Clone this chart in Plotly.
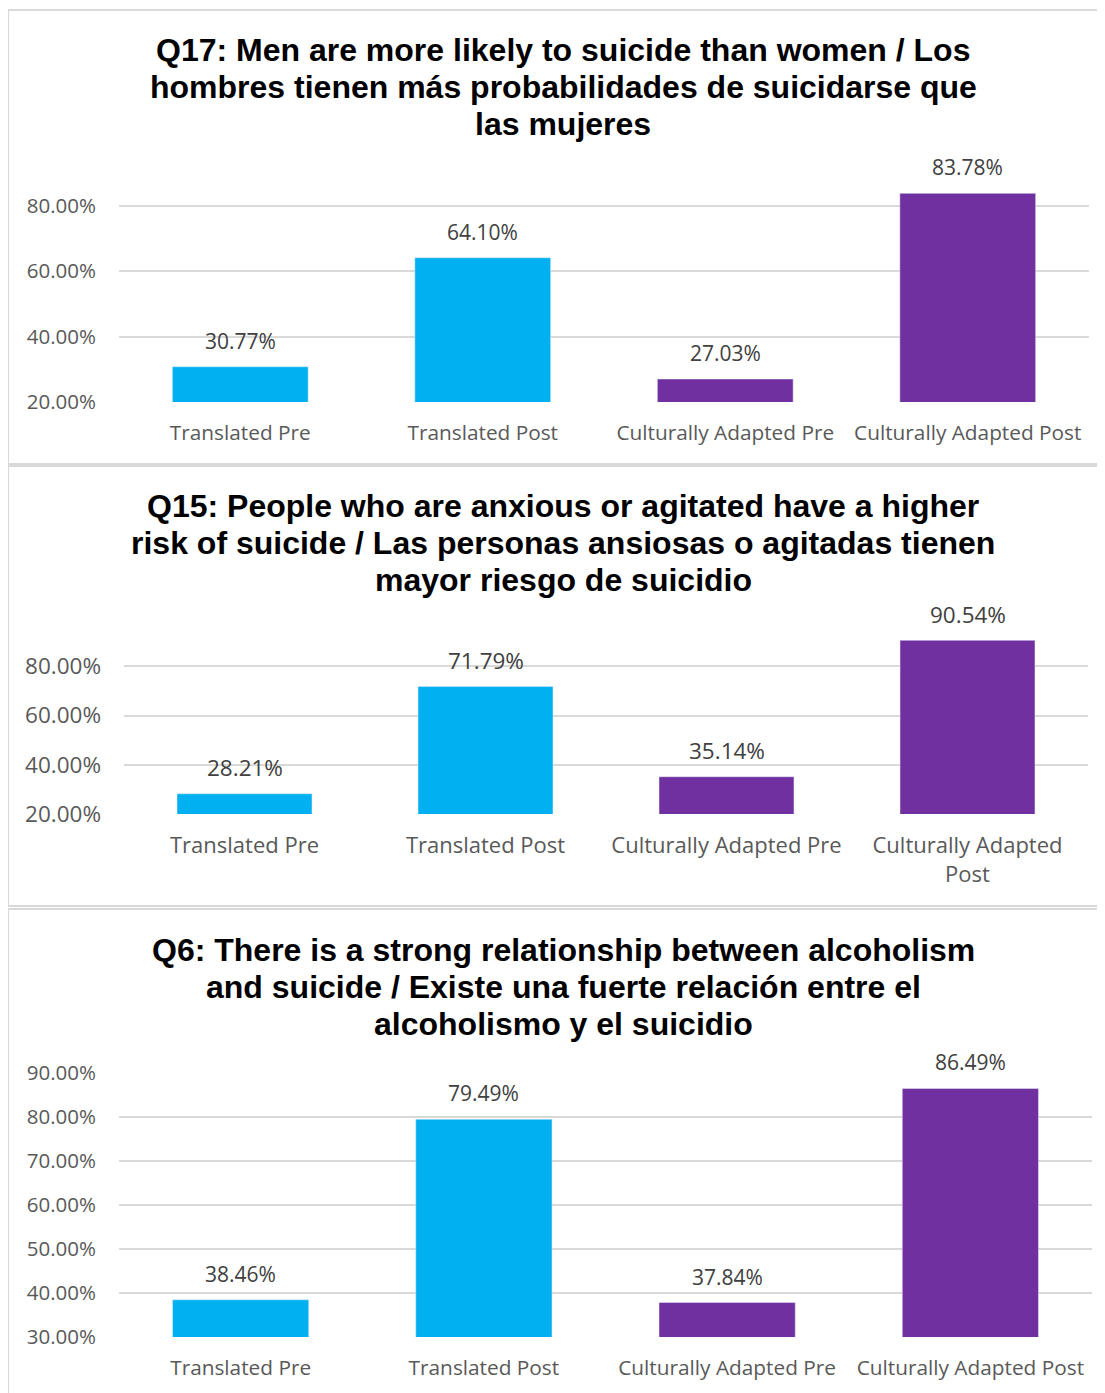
import plotly.graph_objects as go

categories = ["Translated Pre", "Translated Post", "Culturally Adapted Pre", "Culturally Adapted Post"]
categories_q15 = ["Translated Pre", "Translated Post", "Culturally Adapted Pre", "Culturally Adapted<br>Post"]
bar_colors = ["#00B0F0", "#00B0F0", "#7030A0", "#7030A0"]

q17_values = [30.77, 64.10, 27.03, 83.78]
q15_values = [28.21, 71.79, 35.14, 90.54]
q6_values = [38.46, 79.49, 37.84, 86.49]

q17_title = ["Q17: Men are more likely to suicide than women / Los",
             "hombres tienen más probabilidades de suicidarse que",
             "las mujeres"]
q15_title = ["Q15: People who are anxious or agitated have a higher",
             "risk of suicide / Las personas ansiosas o agitadas tienen",
             "mayor riesgo de suicidio"]
q6_title = ["Q6: There is a strong relationship between alcoholism",
            "and suicide / Existe una fuerte relación entre el",
            "alcoholismo y el suicidio"]

# page has an 8px body margin, so the figure is a bit smaller than the window
OFF = 8
W, H = 1097, 1385


def fx(px):
    return (px - OFF) / W


def fy(px):
    return 1 - (px - OFF) / H


panels = [
    dict(title=q17_title, title_y=[50, 87, 124], cats=categories, vals=q17_values,
         xdom=[fx(119), fx(1089)], ydom=[fy(402), fy(173)], yrange=[20, 90],
         ticks=[20, 40, 60, 80], fs=20.5, cfs=20.8, dfs=21),
    dict(title=q15_title, title_y=[506, 543, 580], cats=categories_q15, vals=q15_values,
         xdom=[fx(124), fx(1088)], ydom=[fy(814), fy(617)], yrange=[20, 100],
         ticks=[20, 40, 60, 80], fs=22.5, cfs=22, dfs=22.5),
    dict(title=q6_title, title_y=[950, 987, 1024], cats=categories, vals=q6_values,
         xdom=[fx(119), fx(1092)], ydom=[fy(1337), fy(1073)], yrange=[30, 90],
         ticks=[30, 40, 50, 60, 70, 80, 90], fs=20.5, cfs=20.8, dfs=21),
]

fig = go.Figure()
annotations = []
for i, p in enumerate(panels, start=1):
    xa = "x" if i == 1 else f"x{i}"
    ya = "y" if i == 1 else f"y{i}"
    fig.add_trace(go.Bar(x=p["cats"], y=p["vals"], marker_color=bar_colors,
                         xaxis=xa, yaxis=ya, showlegend=False, cliponaxis=False))
    for c, v in zip(p["cats"], p["vals"]):
        annotations.append(dict(x=c, y=v, xref=xa, yref=ya, text=f"{v:.2f}%",
                                showarrow=False, yanchor="middle", yshift=26,
                                font=dict(family="Open Sans", size=p["dfs"], color="#404040")))
    for line, ty in zip(p["title"], p["title_y"]):
        annotations.append(dict(x=fx(563), y=fy(ty), xref="paper", yref="paper",
                                text=f"<b>{line}</b>", showarrow=False,
                                xanchor="center", yanchor="middle",
                                font=dict(family="Liberation Sans", size=32, color="#000000")))
    sfx = "" if i == 1 else str(i)
    fig.layout["xaxis" + sfx] = dict(domain=p["xdom"], anchor=ya, showgrid=False, automargin=False,
                                     showline=False, ticks="", ticklabelstandoff=16,
                                     tickfont=dict(family="Open Sans", size=p["cfs"], color="#595959"))
    fig.layout["yaxis" + sfx] = dict(domain=p["ydom"], anchor=xa, range=p["yrange"], automargin=False,
                                     tickvals=p["ticks"], ticktext=[f"{t:.2f}%" for t in p["ticks"]],
                                     showgrid=True, gridcolor="#d9d9d9", gridwidth=1.5,
                                     zeroline=False, showline=False, ticklabelstandoff=22,
                                     tickfont=dict(family="Open Sans", size=p["fs"], color="#595959"))

borders = [(10, 464), (466, 906), (909, 1405)]
shapes = [dict(type="rect", xref="paper", yref="paper", x0=fx(8), x1=1.02,
               y0=fy(b), y1=fy(t), line=dict(color="#d9d9d9", width=2))
          for t, b in borders]

fig.update_layout(width=W, height=H, margin=dict(l=0, r=0, t=0, b=0),
                  plot_bgcolor="white", paper_bgcolor="white", bargap=0.44,
                  annotations=annotations, shapes=shapes)

fig.write_html("out.html")
